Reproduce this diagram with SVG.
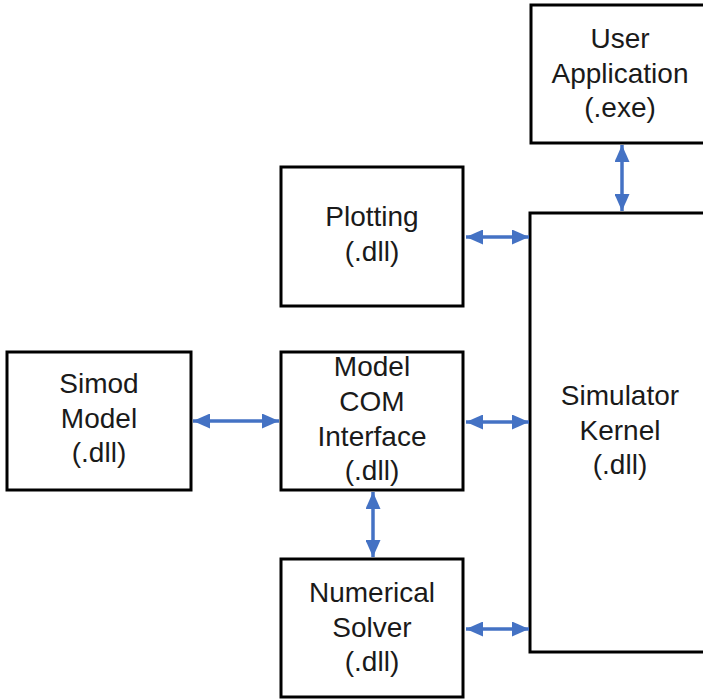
<svg xmlns="http://www.w3.org/2000/svg" width="703" height="700" viewBox="0 0 703 700">
<style>
.box{fill:#fff;stroke:#000;stroke-width:3}
.t{font-family:"Liberation Sans",Arial,sans-serif;font-size:28px;fill:#1a1a1a;text-anchor:middle}
.c{stroke:#4472C4;stroke-width:3.5;fill:none;marker-start:url(#ah);marker-end:url(#ah)}
</style>
<defs>
<marker id="ah" viewBox="0 0 17 15" refX="17" refY="7.5" markerWidth="17" markerHeight="15" markerUnits="userSpaceOnUse" orient="auto-start-reverse">
<path d="M0,0 L17,7.5 L0,15 Z" fill="#4472C4"/>
</marker>
</defs>
<rect width="703" height="700" fill="#fff"/>
<g id="user-app">
<rect class="box" x="531" y="5" width="180" height="138"/>
<text class="t" x="620" y="48">User</text>
<text class="t" x="620" y="83">Application</text>
<text class="t" x="620" y="117">(.exe)</text>
</g>
<g id="kernel">
<rect class="box" x="530" y="213" width="180" height="439"/>
<text class="t" x="620" y="405">Simulator</text>
<text class="t" x="620" y="440">Kernel</text>
<text class="t" x="620" y="474">(.dll)</text>
</g>
<g id="plotting">
<rect class="box" x="281" y="167" width="182" height="139"/>
<text class="t" x="372" y="226">Plotting</text>
<text class="t" x="372" y="261">(.dll)</text>
</g>
<g id="simod">
<rect class="box" x="7" y="352" width="184" height="138"/>
<text class="t" x="99" y="393">Simod</text>
<text class="t" x="99" y="428">Model</text>
<text class="t" x="99" y="462">(.dll)</text>
</g>
<g id="model-com">
<rect class="box" x="281" y="352" width="182" height="138"/>
<text class="t" x="372" y="376">Model</text>
<text class="t" x="372" y="411">COM</text>
<text class="t" x="372" y="446">Interface</text>
<text class="t" x="372" y="480">(.dll)</text>
</g>
<g id="solver">
<rect class="box" x="281" y="559" width="182" height="138"/>
<text class="t" x="372" y="602">Numerical</text>
<text class="t" x="372" y="637">Solver</text>
<text class="t" x="372" y="671">(.dll)</text>
</g>
<g id="connectors">
<path class="c" d="M622,145 L622,211"/>
<path class="c" d="M466,237 L529,237"/>
<path class="c" d="M193,421 L279,421"/>
<path class="c" d="M466,422 L529,422"/>
<path class="c" d="M373,492 L373,557"/>
<path class="c" d="M466,629 L529,629"/>
</g>
</svg>
